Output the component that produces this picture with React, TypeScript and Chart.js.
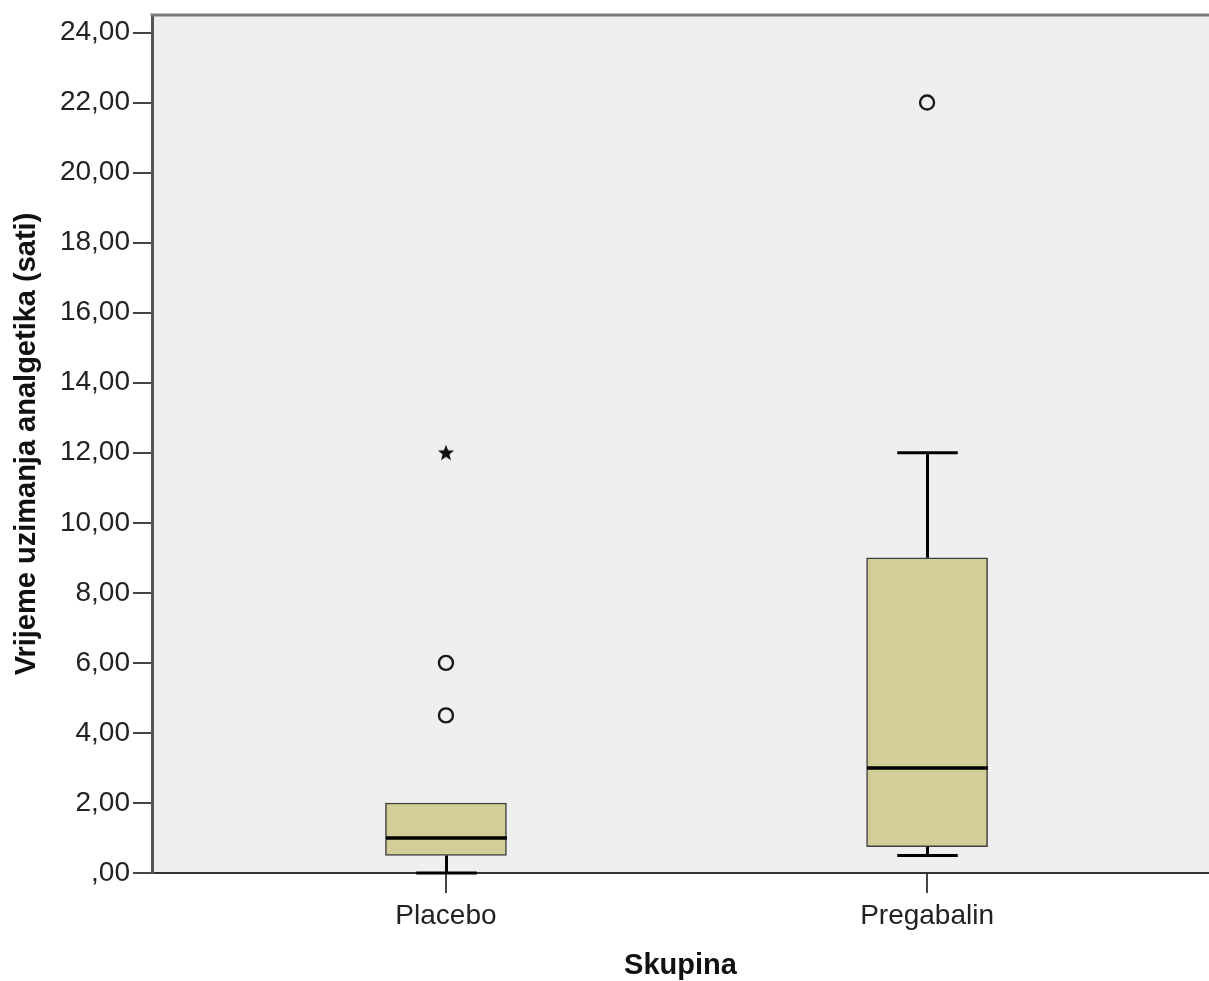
import React, { useEffect, useRef } from 'react';
import { Chart, registerables } from 'chart.js';
Chart.register(...registerables);

const categories = ['Placebo', 'Pregabalin'];
const categoryPos = [1, 2];
const q1 = [0.5, 0.75];
const median = [1, 3];
const q3 = [2, 9];
const whiskerLow = [0, 0.5];
const whiskerHigh = [2, 12];
const outlierCategory = [1, 1, 2];
const outlierValue = [6, 4.5, 22];
const extremeCategory = [1];
const extremeValue = [12];
const yTickValues = [0, 2, 4, 6, 8, 10, 12, 14, 16, 18, 20, 22, 24];

const FONT = '"Liberation Sans", Arial, sans-serif';
const BOX_FILL = '#D3CE98';
const PLOT_BG = '#EFEFEF';

function makeStar(): HTMLCanvasElement {
  const c = document.createElement('canvas');
  c.width = 20;
  c.height = 20;
  const g = c.getContext('2d')!;
  g.fillStyle = '#111';
  g.beginPath();
  const cx = 10, cy = 10.5, ro = 8.5, ri = 3.6;
  for (let i = 0; i < 10; i++) {
    const r = i % 2 === 0 ? ro : ri;
    const a = -Math.PI / 2 + (i * Math.PI) / 5;
    const x = cx + r * Math.cos(a);
    const y = cy + r * Math.sin(a);
    if (i === 0) g.moveTo(x, y);
    else g.lineTo(x, y);
  }
  g.closePath();
  g.fill();
  return c;
}

const plotDecor = {
  id: 'plotDecor',
  beforeDraw(chart: any) {
    const { ctx, chartArea } = chart;
    ctx.save();
    ctx.fillStyle = PLOT_BG;
    ctx.fillRect(chartArea.left, chartArea.top, chartArea.right - chartArea.left, chartArea.bottom - chartArea.top);
    ctx.restore();
  },
  afterDraw(chart: any) {
    const { ctx, chartArea } = chart;
    ctx.save();
    ctx.strokeStyle = '#7a7a7a';
    ctx.lineWidth = 3;
    ctx.beginPath();
    ctx.moveTo(chartArea.left - 1.5, chartArea.top);
    ctx.lineTo(chartArea.right, chartArea.top);
    ctx.stroke();
    ctx.restore();
  },
};

const boxDecor = {
  id: 'boxDecor',
  afterDatasetsDraw(chart: any) {
    const { ctx } = chart;
    const y = chart.scales.y;
    const meta = chart.getDatasetMeta(0);
    ctx.save();
    ctx.strokeStyle = '#000';
    meta.data.forEach((bar: any, i: number) => {
      const cx = Math.round(bar.x) + 0.5;
      const w = bar.width;
      const half = w / 2;
      const capHalf = w / 4;
      ctx.lineWidth = 3;
      if (whiskerLow[i] < q1[i]) {
        const yl = y.getPixelForValue(whiskerLow[i]);
        ctx.beginPath();
        ctx.moveTo(cx, y.getPixelForValue(q1[i]));
        ctx.lineTo(cx, yl);
        ctx.moveTo(cx - capHalf, yl);
        ctx.lineTo(cx + capHalf, yl);
        ctx.stroke();
      }
      if (whiskerHigh[i] > q3[i]) {
        const yh = y.getPixelForValue(whiskerHigh[i]);
        ctx.beginPath();
        ctx.moveTo(cx, y.getPixelForValue(q3[i]));
        ctx.lineTo(cx, yh);
        ctx.moveTo(cx - capHalf, yh);
        ctx.lineTo(cx + capHalf, yh);
        ctx.stroke();
      }
      ctx.lineWidth = 3.5;
      ctx.beginPath();
      const ym = y.getPixelForValue(median[i]);
      ctx.moveTo(cx - half, ym);
      ctx.lineTo(cx + half, ym);
      ctx.stroke();
    });
    ctx.restore();
  },
};

export default function App() {
  const ref = useRef<HTMLCanvasElement | null>(null);
  useEffect(() => {
    document.body.style.margin = '0';
    const star = makeStar();
    const chart = new Chart(ref.current!, {
      type: 'bar',
      data: {
        datasets: [
          {
            type: 'bar',
            data: categoryPos.map((x, i) => ({ x, y: [q1[i], q3[i]] })) as any,
            backgroundColor: BOX_FILL,
            borderColor: '#3f3f3f',
            borderWidth: 1.5,
            borderSkipped: false,
            barThickness: 121,
          } as any,
          {
            type: 'scatter',
            data: outlierCategory.map((c, i) => ({ x: categoryPos[c - 1], y: outlierValue[i] })),
            pointStyle: 'circle',
            pointRadius: 7,
            pointBorderWidth: 2.4,
            pointBorderColor: '#1a1a1a',
            pointBackgroundColor: 'rgba(0,0,0,0)',
          } as any,
          {
            type: 'scatter',
            data: extremeCategory.map((c, i) => ({ x: categoryPos[c - 1], y: extremeValue[i] })),
            pointStyle: star,
            pointRadius: 10,
          } as any,
        ],
      },
      options: {
        responsive: false,
        animation: false,
        events: [],
        layout: { autoPadding: false, padding: { top: 15, right: 0, left: 0, bottom: 0 } },
        plugins: { legend: { display: false }, tooltip: { enabled: false } },
        scales: {
          x: {
            type: 'linear',
            min: 0.389,
            max: 2.586,
            offset: false,
            afterBuildTicks: (s: any) => {
              s.ticks = categoryPos.map((v) => ({ value: v }));
            },
            afterFit: (s: any) => {
              s.height = 108;
              s.paddingLeft = 0;
              s.paddingRight = 0;
            },
            ticks: {
              autoSkip: false,
              maxRotation: 0,
              padding: 9,
              color: '#222',
              font: { family: FONT, size: 28, lineHeight: 1 },
              callback: (v: any) => categories[categoryPos.indexOf(Number(v))] ?? '',
            },
            grid: { offset: false, drawOnChartArea: false, drawTicks: true, tickLength: 20, color: '#444', lineWidth: 2 },
            border: { display: true, color: '#333', width: 2 },
            title: {
              display: true,
              text: 'Skupina',
              color: '#111',
              font: { family: FONT, size: 29, weight: 'bold', lineHeight: 1.0 },
              padding: { top: 0, bottom: 1 },
            },
          },
          y: {
            type: 'linear',
            min: 0,
            max: 24.5,
            afterBuildTicks: (s: any) => {
              s.ticks = yTickValues.map((v) => ({ value: v }));
            },
            afterFit: (s: any) => {
              s.width = 152;
              s.paddingTop = 0;
              s.paddingBottom = 0;
            },
            ticks: {
              padding: 3,
              color: '#222',
              font: { family: FONT, size: 28, lineHeight: 1 },
              callback: (v: any) => {
                const n = Number(v);
                return n === 0 ? ',00' : n.toFixed(2).replace('.', ',');
              },
            },
            grid: { drawOnChartArea: false, drawTicks: true, tickLength: 19, color: '#444', lineWidth: 2 },
            border: { display: true, color: '#555', width: 3 },
            title: {
              display: true,
              text: 'Vrijeme uzimanja analgetika (sati)',
              color: '#111',
              font: { family: FONT, size: 29, weight: 'bold', lineHeight: 1.2 },
              padding: { top: 10, bottom: 0 },
            },
          },
        },
      },
      plugins: [plotDecor, boxDecor],
    } as any);
    return () => chart.destroy();
  }, []);
  return (
    <div style={{ width: 1209, height: 981 }}>
      <canvas ref={ref} width={1209} height={981} style={{ display: 'block' }} />
    </div>
  );
}
